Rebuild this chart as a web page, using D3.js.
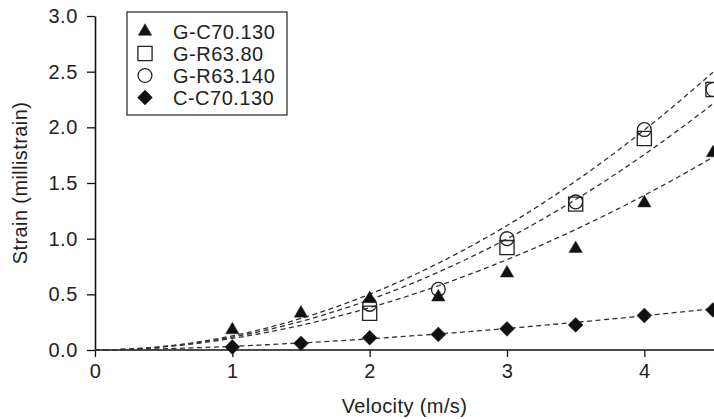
<!DOCTYPE html>
<html>
<head>
<meta charset="utf-8">
<script src="https://cdn.jsdelivr.net/npm/d3@7"></script>
<style>
  body { margin: 0; background: #fff; overflow: hidden; }
  svg { display: block; font-family: "Liberation Sans", Arial, sans-serif; }
</style>
</head>
<body>
<div id="chart-area"></div>
<script>
// values
const seriesNames = ["G-C70.130", "G-R63.80", "G-R63.140", "C-C70.130"];
const gc70130X = [1, 1.5, 2, 2.5, 3, 3.5, 4, 4.5];
const gc70130Y = [0.18, 0.33, 0.46, 0.475, 0.69, 0.91, 1.32, 1.77];
const gr6380X = [2, 3, 3.5, 4, 4.5];
const gr6380Y = [0.33, 0.92, 1.31, 1.90, 2.34];
const gr63140X = [2, 2.5, 3, 3.5, 4, 4.5];
const gr63140Y = [0.41, 0.545, 1.0, 1.33, 1.98, 2.34];
const cc70130X = [1, 1.5, 2, 2.5, 3, 3.5, 4, 4.5];
const cc70130Y = [0.027, 0.06, 0.11, 0.14, 0.19, 0.225, 0.31, 0.36];
// power trendlines y = c * x^n, coefficients
const trendC = [0.104, 0.116, 0.127, 0.033];
const trendN = [1.87, 1.96, 1.98, 1.61];
const xTicks = [0, 1, 2, 3, 4];
const yTicks = [0, 0.5, 1, 1.5, 2, 2.5, 3];

const WIDTH = 714, HEIGHT = 419;
const margin = { left: 95, right: 1, top: 16, bottom: 69 };
const W = WIDTH - margin.left - margin.right;
const H = HEIGHT - margin.top - margin.bottom;

const svg = d3.select("#chart-area").append("svg")
    .attr("width", WIDTH).attr("height", HEIGHT);
const group = svg.append("g").attr("transform", `translate(${margin.left},${margin.top})`);

const x = d3.scaleLinear().domain([0, 4.5]).range([0, W]);
const y = d3.scaleLinear().domain([0, 3]).range([H, 0]);

const series = [
  { name: seriesNames[0], xs: gc70130X, ys: gc70130Y, shape: "triangle", filled: true },
  { name: seriesNames[1], xs: gr6380X, ys: gr6380Y, shape: "square", filled: false },
  { name: seriesNames[2], xs: gr63140X, ys: gr63140Y, shape: "circle", filled: false },
  { name: seriesNames[3], xs: cc70130X, ys: cc70130Y, shape: "diamond", filled: true }
];

const textColor = "#222";

// axes
const xAxis = group.append("g").attr("transform", `translate(0,${H})`)
    .call(d3.axisBottom(x).tickValues(xTicks).tickFormat(d3.format("d")).tickSize(7).tickSizeOuter(0).tickPadding(7));
const yAxis = group.append("g")
    .call(d3.axisLeft(y).tickValues(yTicks).tickFormat(d3.format(".1f")).tickSize(8).tickSizeOuter(0).tickPadding(9));
[xAxis, yAxis].forEach(a => {
  a.selectAll("path").attr("stroke", "#111").attr("stroke-width", 1.6);
  a.selectAll("line").attr("stroke", "#111").attr("stroke-width", 1.3);
  a.selectAll("text").attr("fill", textColor).attr("font-size", "20px").attr("letter-spacing", "0.6px");
});
xAxis.select("path").attr("d", `M0,0H${W + margin.right}`);

group.append("text")
    .attr("x", (WIDTH - margin.left) / 2).attr("y", H + 63)
    .attr("text-anchor", "middle").attr("font-size", "20px").attr("letter-spacing", "0.4px").attr("fill", textColor)
    .text("Velocity (m/s)");
group.append("text")
    .attr("transform", "rotate(-90)")
    .attr("x", -H / 2).attr("y", -margin.left + 27)
    .attr("text-anchor", "middle").attr("font-size", "20px").attr("letter-spacing", "0.4px").attr("fill", textColor)
    .text("Strain (millistrain)");

// trend lines
const samples = d3.range(0, 4.55, 0.05);
series.forEach((s, k) => {
  group.append("path")
      .datum(samples)
      .attr("fill", "none").attr("stroke", "#333").attr("stroke-width", 1.3)
      .attr("stroke-dasharray", "5,3.5")
      .attr("d", d3.line().x(d => x(d)).y(d => y(trendC[k] * Math.pow(d, trendN[k]))));
});

const symbols = {
  triangle: d3.symbol().type(d3.symbolTriangle).size(78),
  square: d3.symbol().type(d3.symbolSquare).size(200),
  circle: d3.symbol().type(d3.symbolCircle).size(150),
  diamond: d3.symbol().type(d3.symbolSquare).size(110)
};

function drawMarker(g, s) {
  g.append("path")
      .attr("d", symbols[s.shape]())
      .attr("transform", s.shape === "diamond" ? "rotate(45)" : null)
      .attr("fill", s.filled ? "#111" : "none")
      .attr("stroke", "#222")
      .attr("stroke-width", s.filled ? 0.5 : 1.3);
}

// open markers first, filled on top
[series[1], series[2], series[0], series[3]].forEach(s => {
  s.xs.forEach((v, i) => {
    const g = group.append("g").attr("transform", `translate(${x(v)},${y(s.ys[i])})`);
    drawMarker(g, s);
  });
});

// legend
const legend = svg.append("g").attr("transform", "translate(127,12)");
legend.append("rect").attr("width", 160).attr("height", 103)
    .attr("fill", "#fff").attr("stroke", "#222").attr("stroke-width", 1.2);
series.forEach((s, i) => {
  const row = legend.append("g").attr("transform", `translate(18,${19.5 + i * 22})`);
  drawMarker(row, s);
  row.append("text").attr("x", 28).attr("y", 7)
      .attr("font-size", "20px").attr("letter-spacing", "0.5px").attr("fill", textColor).text(s.name);
});
</script>
</body>
</html>
